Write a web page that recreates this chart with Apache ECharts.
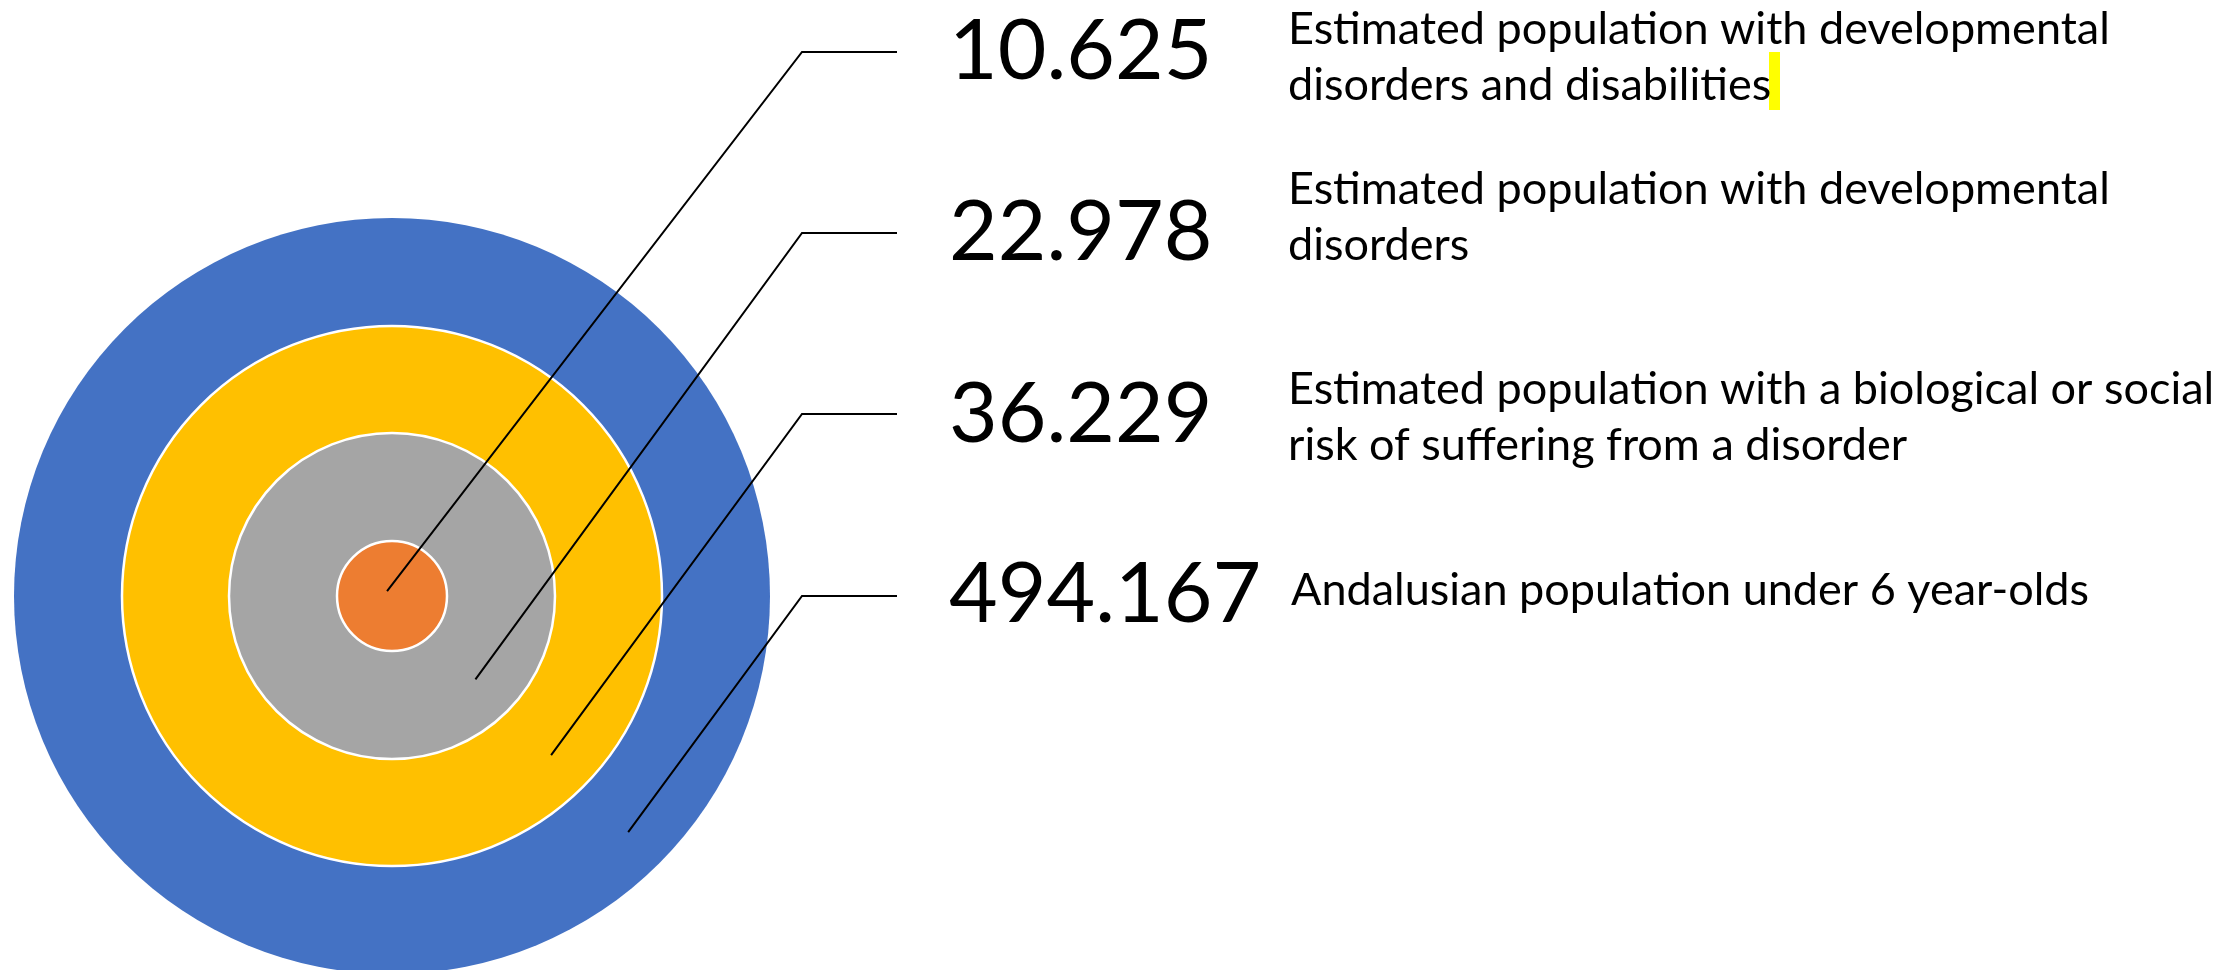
<!DOCTYPE html>
<html>
<head>
<meta charset="utf-8">
<script src="https://cdn.jsdelivr.net/npm/echarts@6/dist/echarts.min.js"></script>
<style>
html,body{margin:0;padding:0;background:#fff;}
#main{width:2238px;height:970px;}
</style>
</head>
<body>
<div id="main"></div>
<script>
// rings, from the outer one to the centre
var ringNames=['under6','risk','disorders','disabilities'];
var ringValues=[494167,36229,22978,10625];
var ringColors=['#4472C4','#FFC000','#A5A5A5','#ED7D31'];
var ringDesc=[
    ['Andalusian population under 6 year-olds'],
    ['Estimated population with a biological or social','risk of suffering from a disorder'],
    ['Estimated population with developmental','disorders'],
    ['Estimated population with developmental','disorders and disabilities']
];

// layout
var C=[392,596];
var ringRadius=[378,270,163,55];
var anchorDist=[334,225,118,-7];   // where the leader line starts, along 45deg
var elbowY=[596,414,233,52];
var numY=[595,415,233,52];
var descY=[590.5,389.5,189.5,29];
var descX=[1291,1288,1288,1288];
var lineH=56;

function fmt(v){
    return String(v).replace(/\B(?=(\d{3})+(?!\d))/g,'.');
}

var myChart=echarts.init(document.getElementById('main'));

var series=[];
for(var i=0;i<ringValues.length;i++){
    series.push({
        type:'pie',
        center:C,
        radius:[0,ringRadius[i]],
        silent:true,
        animation:false,
        label:{show:false},
        labelLine:{show:false},
        itemStyle:{color:ringColors[i],borderColor:'#fff',borderWidth:i==0?0:2.5},
        data:[{name:ringNames[i],value:ringValues[i]}]
    });
}

var graphics=[];
for(var i=0;i<ringValues.length;i++){
    var a=Math.PI/4;
    var ax=C[0]+anchorDist[i]*Math.cos(a);
    var ay=C[1]+anchorDist[i]*Math.sin(a);
    graphics.push({
        type:'polyline',
        z:10,
        silent:true,
        shape:{points:[[ax,ay],[802,elbowY[i]],[897,elbowY[i]]]},
        style:{stroke:'#000',lineWidth:2,fill:null}
    });
    graphics.push({
        type:'text',
        z:10,
        x:949,y:numY[i],
        style:{text:fmt(ringValues[i]),font:'84px Lato',fill:'#000',
            align:'left',verticalAlign:'middle',textAlign:'left',textVerticalAlign:'middle'}
    });
    for(var k=0;k<ringDesc[i].length;k++){
        graphics.push({
            type:'text',
            z:10,
            x:descX[i],y:descY[i]+k*lineH,
            style:{text:ringDesc[i][k],font:'45px Lato',fill:'#000',
                align:'left',verticalAlign:'middle',textAlign:'left',textVerticalAlign:'middle'}
        });
    }
}
// yellow text-cursor mark after "disabilities"
graphics.push({type:'rect',z:9,shape:{x:1769,y:52,width:11,height:58},style:{fill:'#FFFF00'}});

myChart.setOption({
    backgroundColor:'#fff',
    animation:false,
    series:series,
    graphic:graphics
});
</script>
</body>
</html>
